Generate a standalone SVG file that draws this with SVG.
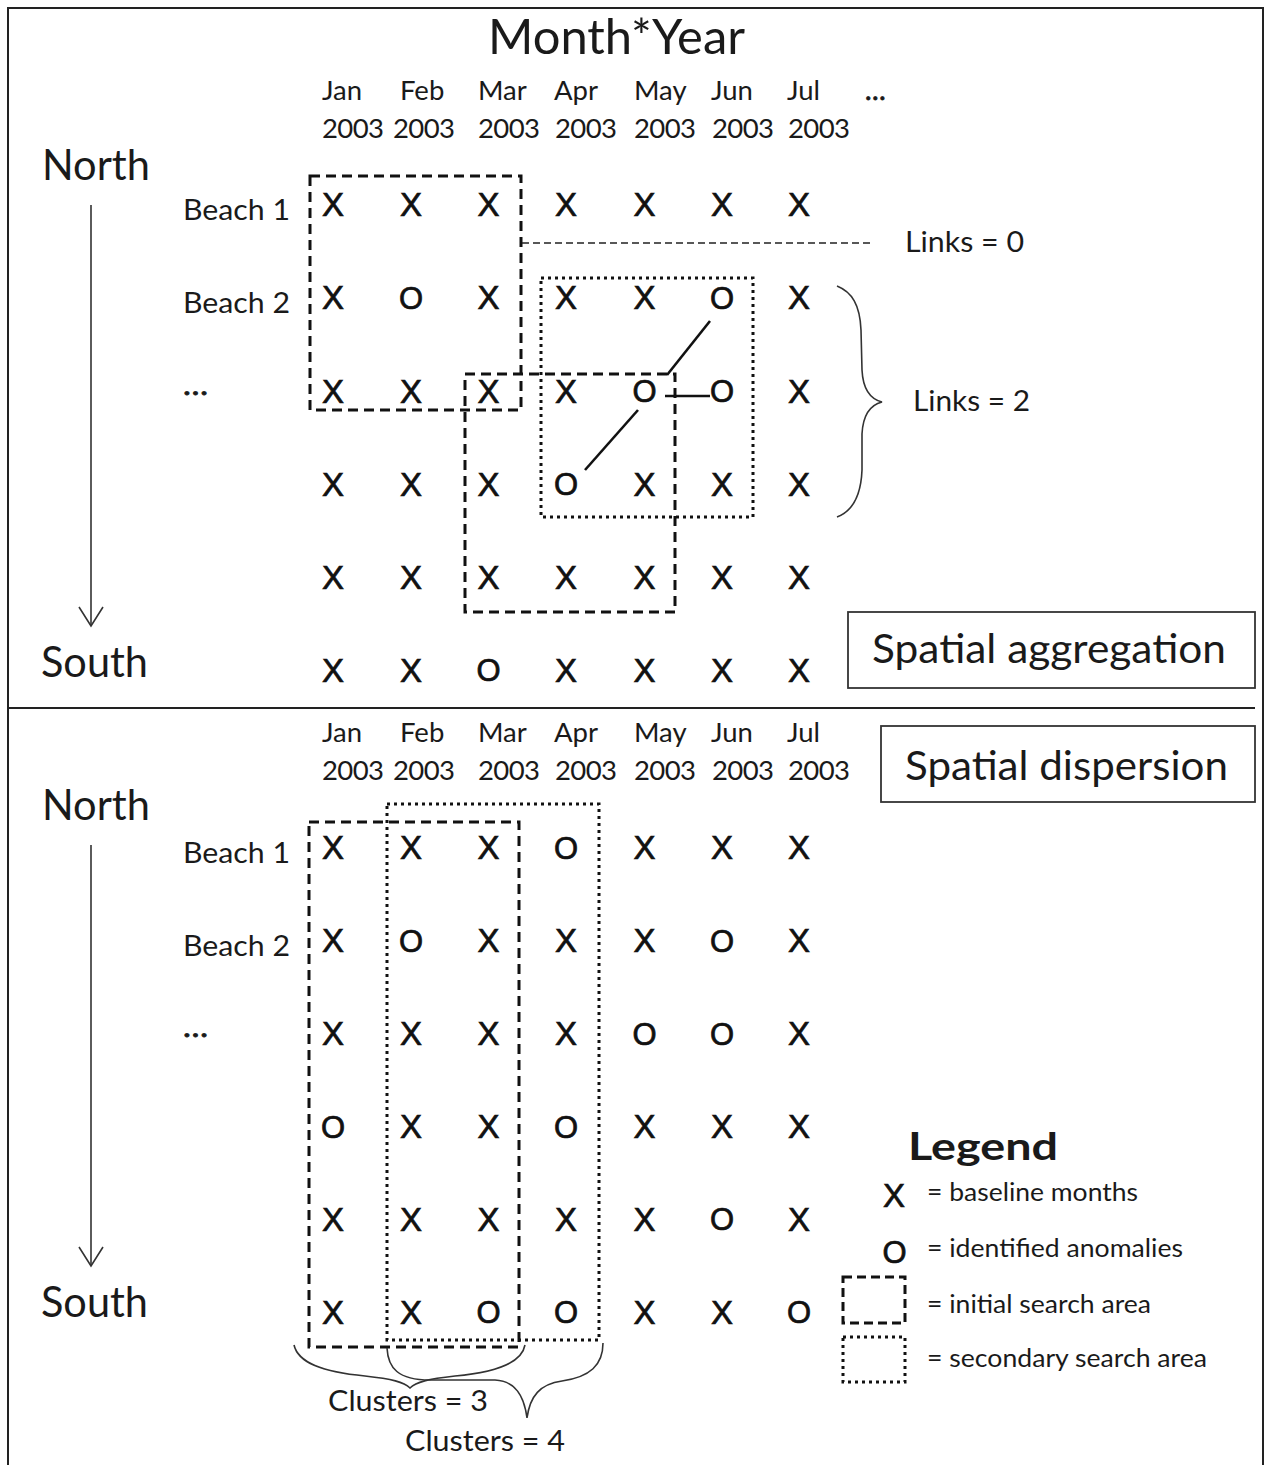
<svg xmlns="http://www.w3.org/2000/svg" width="1265" height="1465" viewBox="0 0 1265 1465">
  <style>
    .t { font-family: Lato, "Liberation Sans", sans-serif; fill: #1a1a1a; }
    .m { font-size: 27.5px; }
    .lb { font-size: 29px; }
    .big { font-size: 42px; }
    .sp { font-size: 41px; }
    .lg { font-size: 25px; }
    .xo { font-family: "Liberation Sans", Arial, sans-serif; text-anchor: middle; fill: #111; stroke: #111; stroke-width: 0.7; }
    .x { font-size: 33px; }
    .o { font-size: 31px; }
    .ell { stroke: #1a1a1a; stroke-width: 0.8; }
    .dash { fill: none; stroke: #111; stroke-width: 3; stroke-dasharray: 10 6; }
    .dot { fill: none; stroke: #111; stroke-width: 3; stroke-dasharray: 3 4; }
    .thin { fill: none; stroke: #222; stroke-width: 1.5; stroke-dasharray: 7 4; }
    .brace { fill: none; stroke: #333; stroke-width: 1.6; }
    .link { stroke: #111; stroke-width: 2.6; stroke-linecap: butt; }
    .frame { fill: none; stroke: #222; stroke-width: 2; }
    .tag { fill: none; stroke: #333; stroke-width: 1.8; }
    .arr { fill: none; stroke: #333; stroke-width: 1.6; }
  </style>

  <!-- outer frame and panel divider -->
  <g id="frame">
    <path class="frame" d="M8,1470 V8 H1263 V1470"/>
    <line class="frame" x1="8" y1="708" x2="1255" y2="708"/>
  </g>

  <!-- ===== upper panel: spatial aggregation ===== -->
  <g id="title">
    <text class="t" x="488" y="54" font-size="48" textLength="257" lengthAdjust="spacingAndGlyphs">Month*Year</text>
  </g>

  <g id="months-top" class="t m">
    <text x="322" y="100">Jan</text>
    <text x="400" y="100">Feb</text>
    <text x="478" y="100">Mar</text>
    <text x="554" y="100">Apr</text>
    <text x="634" y="100">May</text>
    <text x="711" y="100">Jun</text>
    <text x="787" y="100">Jul</text>
    <text class="ell" x="865" y="100">…</text>
    <text x="322" y="138" textLength="62">2003</text>
    <text x="393" y="138" textLength="62">2003</text>
    <text x="478" y="138" textLength="62">2003</text>
    <text x="555" y="138" textLength="62">2003</text>
    <text x="634" y="138" textLength="62">2003</text>
    <text x="712" y="138" textLength="62">2003</text>
    <text x="788" y="138" textLength="62">2003</text>
  </g>

  <g id="axis-top">
    <text class="t big" x="42" y="180" textLength="108" lengthAdjust="spacingAndGlyphs">North</text>
    <text class="t big" x="41" y="677" textLength="107" lengthAdjust="spacingAndGlyphs">South</text>
  </g>

  <g id="rows-top" class="t lb">
    <text x="183" y="220" textLength="107" lengthAdjust="spacingAndGlyphs">Beach 1</text>
    <text x="183" y="313" textLength="107" lengthAdjust="spacingAndGlyphs">Beach 2</text>
    <text class="ell" x="183" y="395" textLength="25" lengthAdjust="spacingAndGlyphs">…</text>
  </g>

  <g id="grid-top" class="xo">
    <!-- row 1 -->
    <text class="x" x="333" y="215.8">X</text><text class="x" x="411" y="215.8">X</text><text class="x" x="488.5" y="215.8">X</text><text class="x" x="566" y="215.8">X</text><text class="x" x="644.5" y="215.8">X</text><text class="x" x="722" y="215.8">X</text><text class="x" x="799" y="215.8">X</text>
    <!-- row 2 -->
    <text class="x" x="333" y="309.3">X</text><text class="o" x="411" y="308.5">O</text><text class="x" x="488.5" y="309.3">X</text><text class="x" x="566" y="309.3">X</text><text class="x" x="644.5" y="309.3">X</text><text class="o" x="722" y="308.5">O</text><text class="x" x="799" y="309.3">X</text>
    <!-- row 3 -->
    <text class="x" x="333" y="402.8">X</text><text class="x" x="411" y="402.8">X</text><text class="x" x="488.5" y="402.8">X</text><text class="x" x="566" y="402.8">X</text><text class="o" x="644.5" y="402">O</text><text class="o" x="722" y="402">O</text><text class="x" x="799" y="402.8">X</text>
    <!-- row 4 -->
    <text class="x" x="333" y="495.8">X</text><text class="x" x="411" y="495.8">X</text><text class="x" x="488.5" y="495.8">X</text><text class="o" x="566" y="495">O</text><text class="x" x="644.5" y="495.8">X</text><text class="x" x="722" y="495.8">X</text><text class="x" x="799" y="495.8">X</text>
    <!-- row 5 -->
    <text class="x" x="333" y="588.8">X</text><text class="x" x="411" y="588.8">X</text><text class="x" x="488.5" y="588.8">X</text><text class="x" x="566" y="588.8">X</text><text class="x" x="644.5" y="588.8">X</text><text class="x" x="722" y="588.8">X</text><text class="x" x="799" y="588.8">X</text>
    <!-- row 6 -->
    <text class="x" x="333" y="681.8">X</text><text class="x" x="411" y="681.8">X</text><text class="o" x="488.5" y="681">O</text><text class="x" x="566" y="681.8">X</text><text class="x" x="644.5" y="681.8">X</text><text class="x" x="722" y="681.8">X</text><text class="x" x="799" y="681.8">X</text>
  </g>

  <g id="search-areas-top">
    <rect class="dash" x="310" y="176" width="211" height="234"/>
    <rect class="dash" x="465" y="374" width="210" height="238"/>
    <rect class="dot" x="541" y="278" width="212" height="239"/>
  </g>

  <g id="tag-aggregation">
    <rect class="tag" x="848" y="612" width="407" height="76"/>
    <text class="t sp" x="872" y="663" textLength="354" lengthAdjust="spacingAndGlyphs">Spatial aggregation</text>
  </g>

  <g id="links-labels" class="t lb">
    <text x="905" y="252" textLength="119" lengthAdjust="spacingAndGlyphs">Links = 0</text>
    <text x="913" y="411" textLength="117" lengthAdjust="spacingAndGlyphs">Links = 2</text>
  </g>

  <!-- ===== lower panel: spatial dispersion ===== -->
  <g id="months-bottom" class="t m">
    <text x="322" y="742">Jan</text>
    <text x="400" y="742">Feb</text>
    <text x="478" y="742">Mar</text>
    <text x="554" y="742">Apr</text>
    <text x="634" y="742">May</text>
    <text x="711" y="742">Jun</text>
    <text x="787" y="742">Jul</text>
    <text x="322" y="780" textLength="62">2003</text>
    <text x="393" y="780" textLength="62">2003</text>
    <text x="478" y="780" textLength="62">2003</text>
    <text x="555" y="780" textLength="62">2003</text>
    <text x="634" y="780" textLength="62">2003</text>
    <text x="712" y="780" textLength="62">2003</text>
    <text x="788" y="780" textLength="62">2003</text>
  </g>

  <g id="tag-dispersion">
    <rect class="tag" x="881" y="726" width="374" height="76"/>
    <text class="t sp" x="905" y="780" textLength="323" lengthAdjust="spacingAndGlyphs">Spatial dispersion</text>
  </g>

  <g id="axis-bottom">
    <text class="t big" x="42" y="820" textLength="108" lengthAdjust="spacingAndGlyphs">North</text>
    <text class="t big" x="41" y="1317" textLength="107" lengthAdjust="spacingAndGlyphs">South</text>
  </g>

  <g id="rows-bottom" class="t lb">
    <text x="183" y="863" textLength="107" lengthAdjust="spacingAndGlyphs">Beach 1</text>
    <text x="183" y="956" textLength="107" lengthAdjust="spacingAndGlyphs">Beach 2</text>
    <text class="ell" x="183" y="1037" textLength="25" lengthAdjust="spacingAndGlyphs">…</text>
  </g>

  <g id="grid-bottom" class="xo">
    <!-- row 1 -->
    <text class="x" x="333" y="859.3">X</text><text class="x" x="411" y="859.3">X</text><text class="x" x="488.5" y="859.3">X</text><text class="o" x="566" y="858.5">O</text><text class="x" x="644.5" y="859.3">X</text><text class="x" x="722" y="859.3">X</text><text class="x" x="799" y="859.3">X</text>
    <!-- row 2 -->
    <text class="x" x="333" y="952.3">X</text><text class="o" x="411" y="951.5">O</text><text class="x" x="488.5" y="952.3">X</text><text class="x" x="566" y="952.3">X</text><text class="x" x="644.5" y="952.3">X</text><text class="o" x="722" y="951.5">O</text><text class="x" x="799" y="952.3">X</text>
    <!-- row 3 -->
    <text class="x" x="333" y="1045.3">X</text><text class="x" x="411" y="1045.3">X</text><text class="x" x="488.5" y="1045.3">X</text><text class="x" x="566" y="1045.3">X</text><text class="o" x="644.5" y="1044.5">O</text><text class="o" x="722" y="1044.5">O</text><text class="x" x="799" y="1045.3">X</text>
    <!-- row 4 -->
    <text class="o" x="333" y="1137.5">O</text><text class="x" x="411" y="1138.3">X</text><text class="x" x="488.5" y="1138.3">X</text><text class="o" x="566" y="1137.5">O</text><text class="x" x="644.5" y="1138.3">X</text><text class="x" x="722" y="1138.3">X</text><text class="x" x="799" y="1138.3">X</text>
    <!-- row 5 -->
    <text class="x" x="333" y="1230.8">X</text><text class="x" x="411" y="1230.8">X</text><text class="x" x="488.5" y="1230.8">X</text><text class="x" x="566" y="1230.8">X</text><text class="x" x="644.5" y="1230.8">X</text><text class="o" x="722" y="1230">O</text><text class="x" x="799" y="1230.8">X</text>
    <!-- row 6 -->
    <text class="x" x="333" y="1323.8">X</text><text class="x" x="411" y="1323.8">X</text><text class="o" x="488.5" y="1323">O</text><text class="o" x="566" y="1323">O</text><text class="x" x="644.5" y="1323.8">X</text><text class="x" x="722" y="1323.8">X</text><text class="o" x="799" y="1323">O</text>
  </g>

  <g id="search-areas-bottom">
    <rect class="dash" x="309" y="822" width="210" height="525"/>
    <rect class="dot" x="387" y="804" width="212" height="536"/>
  </g>

  <g id="cluster-labels" class="t lb">
    <text x="328" y="1411" textLength="160" lengthAdjust="spacingAndGlyphs">Clusters = 3</text>
    <text x="405" y="1451" textLength="160" lengthAdjust="spacingAndGlyphs">Clusters = 4</text>
  </g>

  <!-- legend -->
  <g id="legend">
    <text class="t" x="908" y="1160" font-size="38" font-weight="bold" textLength="150" lengthAdjust="spacingAndGlyphs">Legend</text>
    <text class="xo x" x="894" y="1207">X</text>
    <text class="t lg" x="927" y="1201" textLength="211" lengthAdjust="spacingAndGlyphs">= baseline months</text>
    <text class="xo o" x="894.5" y="1263">O</text>
    <text class="t lg" x="927" y="1257" textLength="256" lengthAdjust="spacingAndGlyphs">= identified anomalies</text>
    <rect class="dash" x="843" y="1277" width="62" height="46" style="stroke-dasharray:9 5"/>
    <text class="t lg" x="927" y="1313" textLength="224" lengthAdjust="spacingAndGlyphs">= initial search area</text>
    <rect class="dot" x="843" y="1337" width="62" height="45"/>
    <text class="t lg" x="927" y="1367" textLength="280" lengthAdjust="spacingAndGlyphs">= secondary search area</text>
  </g>

  <!-- connectors: direction arrows, links, braces -->
  <g id="connectors">
    <line class="arr" x1="91" y1="205" x2="91" y2="625"/>
    <polyline class="arr" points="79,607 91,626 103,607"/>
    <line class="arr" x1="91" y1="845" x2="91" y2="1265"/>
    <polyline class="arr" points="79,1247 91,1266 103,1247"/>

    <line class="thin" x1="522" y1="243" x2="872" y2="243"/>

    <line class="link" x1="710" y1="321" x2="667" y2="375"/>
    <line class="link" x1="638" y1="410" x2="585" y2="470"/>
    <line class="link" x1="665" y1="396" x2="710" y2="396"/>

    <path class="brace" d="M837,286 C852,292 860,305 861,330 L862,370 C863,390 870,399 882,402 C870,405 863,414 862,434 L862,470 C861,495 853,511 837,517"/>

    <path class="brace" d="M294,1345 C298,1362 320,1372 365,1376 C392,1379 404,1382 410,1388 C416,1382 428,1379 455,1376 C500,1372 522,1362 525,1345"/>
    <path class="brace" d="M387,1348 C388,1368 398,1380 430,1380 L495,1380 C515,1381 524,1395 527,1418 C530,1396 540,1384 562,1381 C590,1377 603,1365 603,1343"/>
  </g>
</svg>
